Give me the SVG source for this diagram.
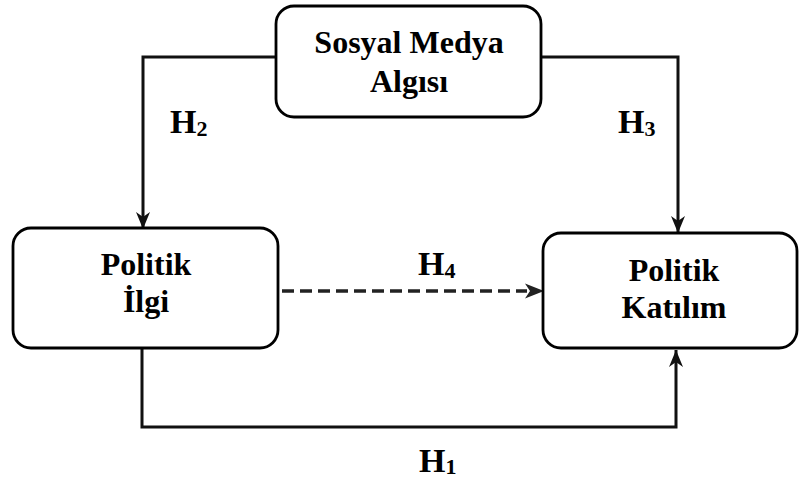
<svg xmlns="http://www.w3.org/2000/svg" width="799" height="481" viewBox="0 0 799 481">
<style>
.box{fill:#fff;stroke:#000;stroke-width:2.8}
text{font-family:'Liberation Serif','Times New Roman',serif;font-weight:bold;fill:#000}
.lbl{font-size:32px;text-anchor:middle}
.h{font-size:34px}
.sub{font-size:22px}
.conn{fill:none;stroke:#111;stroke-width:3}
.dash{fill:none;stroke:#222;stroke-width:3.5;stroke-dasharray:12 6}
</style>
<defs>
<marker id="arr" markerUnits="userSpaceOnUse" markerWidth="18" markerHeight="16" refX="17" refY="8" orient="auto" viewBox="0 0 18 16">
<path d="M0,1 L17,8 L0,15 L5,8 z" fill="#111"/>
</marker>
</defs>
<rect width="799" height="481" fill="#fff"/>
<g id="connectors">
<path class="conn" d="M276,57 H143 V229" marker-end="url(#arr)"/>
<path class="conn" d="M541,57 H678 V233" marker-end="url(#arr)"/>
<path class="conn" d="M142,348 V427 H676 V350" marker-end="url(#arr)"/>
<line class="dash" x1="282" y1="291" x2="527" y2="291"/>
<path d="M525,283.5 L544,291 L525,298.5 L530,291 z" fill="#222"/>
</g>
<g id="node-sosyal">
<rect class="box" x="276" y="6" width="265" height="111" rx="18"/>
<text class="lbl" x="409" y="53">Sosyal Medya</text>
<text class="lbl" x="409" y="92">Algısı</text>
</g>
<g id="node-ilgi">
<rect class="box" x="13" y="228" width="265" height="120" rx="18"/>
<text class="lbl" x="146" y="275">Politik</text>
<text class="lbl" x="146" y="312">İlgi</text>
</g>
<g id="node-katilim">
<rect class="box" x="543" y="233" width="254" height="115" rx="18"/>
<text class="lbl" x="674" y="281">Politik</text>
<text class="lbl" x="674" y="318">Katılım</text>
</g>
<g id="labels">
<text class="h" x="170" y="133">H<tspan class="sub" dy="3">2</tspan></text>
<text class="h" x="618" y="133">H<tspan class="sub" dy="3">3</tspan></text>
<text class="h" x="418" y="275">H<tspan class="sub" dy="3">4</tspan></text>
<text class="h" x="419" y="472">H<tspan class="sub" dy="2">1</tspan></text>
</g>
</svg>
